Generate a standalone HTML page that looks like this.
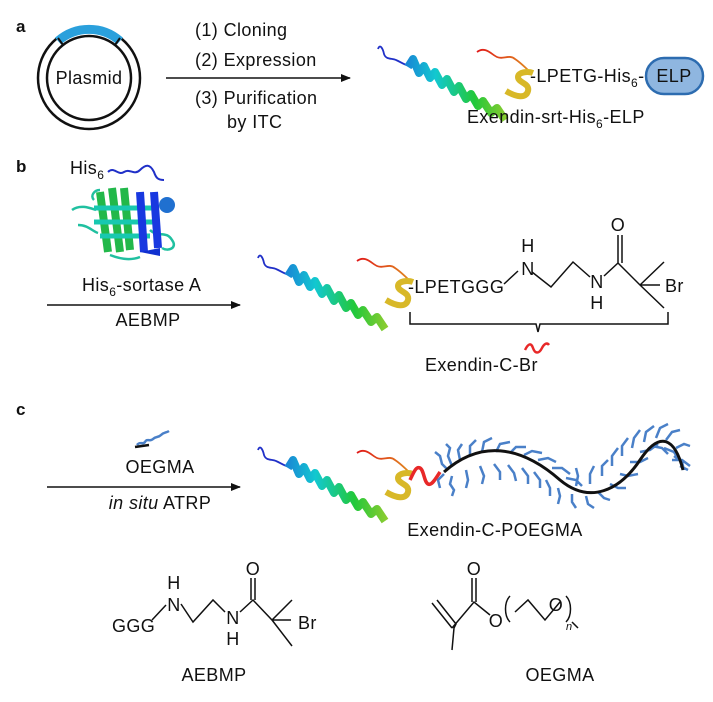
<!DOCTYPE html>
<html><head><meta charset="utf-8"><style>
html,body{margin:0;padding:0;background:#fff}
svg{display:block}
text{font-family:"Liberation Sans",sans-serif;fill:#111;letter-spacing:0.4px}
</style></head><body>
<svg width="713" height="702" viewBox="0 0 713 702" xmlns="http://www.w3.org/2000/svg">
<defs>
<linearGradient id="hg" gradientUnits="userSpaceOnUse" x1="25" y1="0" x2="155" y2="0">
<stop offset="0" stop-color="#1a7fd6"/><stop offset="0.25" stop-color="#12c8d0"/><stop offset="0.55" stop-color="#22c83a"/><stop offset="0.8" stop-color="#8ccc30"/><stop offset="1" stop-color="#e0c020"/></linearGradient>
<linearGradient id="rg" gradientUnits="userSpaceOnUse" x1="99" y1="0" x2="155" y2="0">
<stop offset="0" stop-color="#e01818"/><stop offset="1" stop-color="#e09020"/></linearGradient>
<marker id="ar" markerWidth="10" markerHeight="8" refX="9" refY="4" orient="auto" markerUnits="userSpaceOnUse"><path d="M0,0 L10,4 L0,8 Z" fill="#111"/></marker>
<g id="prot">
<path d="M0,4 c2,-6 5,0 6,5 c2,6 8,4 12,6 c5,2 8,5 14,6" fill="none" stroke="#2030c8" stroke-width="1.8"/>
<path d="M99,7 c8,-6 14,2 20,5 c6,3 12,-3 18,2 c6,4 10,8 16,14" fill="none" stroke="url(#rg)" stroke-width="1.8"/>
<path d="M30,22 l5,-8 l6,14 l5,-7 l6,12 l5,-6 l7,13 l5,-6 l7,13 l5,-6 l7,13 l5,-5 l7,12 l5,-5 l8,12 l6,-5 l8,12" fill="none" stroke="url(#hg)" stroke-width="8" stroke-linejoin="round"/>
<path d="M128,46 c10,6 20,8 22,0 c2,-8 -10,-8 -10,-14 c0,-5 10,-6 15,-4" fill="none" stroke="#d8b828" stroke-width="6"/>
</g>
</defs>

<!-- panel a -->
<text x="16" y="32" font-size="17" font-weight="bold">a</text>
<circle cx="89" cy="78" r="51" fill="none" stroke="#111" stroke-width="2.5"/>
<circle cx="89" cy="78" r="42" fill="none" stroke="#111" stroke-width="2.5"/>
<path d="M58,41 A47,47 0 0 1 120,41" fill="none" stroke="#2aa0dc" stroke-width="9"/>
<line x1="58" y1="38" x2="63" y2="45" stroke="#111" stroke-width="2"/>
<line x1="120" y1="38" x2="115" y2="45" stroke="#111" stroke-width="2"/>
<text x="89" y="84" font-size="18" text-anchor="middle">Plasmid</text>
<text x="195" y="36" font-size="18">(1) Cloning</text>
<text x="195" y="66" font-size="18">(2) Expression</text>
<line x1="166" y1="78" x2="350" y2="78" stroke="#111" stroke-width="1.5" marker-end="url(#ar)"/>
<text x="195" y="104" font-size="18">(3) Purification</text>
<text x="227" y="128" font-size="18">by ITC</text>
<use href="#prot" x="378" y="45"/>
<text x="530" y="82" font-size="18">-LPETG-His<tspan font-size="12" dy="5">6</tspan><tspan dy="-5">-</tspan></text>
<rect x="646" y="58" width="57" height="36" rx="18" fill="#8fb6e0" stroke="#2d6cb0" stroke-width="2.5"/>
<text x="674" y="82" font-size="18" text-anchor="middle">ELP</text>
<text x="467" y="123" font-size="18">Exendin-srt-His<tspan font-size="12" dy="5">6</tspan><tspan dy="-5">-ELP</tspan></text>

<!-- panel b -->
<text x="16" y="172" font-size="17" font-weight="bold">b</text>
<text x="70" y="174" font-size="18">His<tspan font-size="12" dy="5">6</tspan></text>
<path d="M108,172 c6,-6 10,4 16,0 c6,-4 10,4 16,-2 c6,-6 10,-6 14,2 c2,6 4,8 10,8" fill="none" stroke="#2030c8" stroke-width="2"/>
<path d="M72,210 c8,-6 18,-2 24,0 M78,225 c10,0 14,6 20,8 M100,190 c-6,0 -10,6 -6,10 M150,230 c8,8 16,0 22,10 c6,8 -4,12 -10,8 M110,255 c10,4 20,6 30,2" fill="none" stroke="#20c0a0" stroke-width="2.5"/>
<path d="M100,192 l8,60 M112,188 l8,64 M124,188 l6,62" stroke="#22b84a" stroke-width="8"/>
<path d="M94,208 l60,0 M94,222 l60,0 M100,236 l50,0" stroke="#18c8b0" stroke-width="5"/>
<path d="M140,192 l4,60 M154,192 l4,56" stroke="#1838e0" stroke-width="8"/>
<path d="M140,252 l20,-4 l0,8 z" fill="#1030d0"/>
<circle cx="167" cy="205" r="8" fill="#2070d0"/>
<text x="82" y="291" font-size="18">His<tspan font-size="12" dy="5">6</tspan><tspan dy="-5">-sortase A</tspan></text>
<line x1="47" y1="305" x2="240" y2="305" stroke="#111" stroke-width="1.5" marker-end="url(#ar)"/>
<text x="148" y="326" font-size="18" text-anchor="middle">AEBMP</text>
<use href="#prot" x="258" y="254"/>
<text x="408" y="293" font-size="18">-LPETGGG</text>
<g stroke="#111" stroke-width="1.5" fill="none">
<path d="M504,284 L518,271 M532,272 L551,287 L573,262 L590,277 M604,276 L618,263 L640,285 M618,263 L618,235 M622,263 L622,235 M640,285 L664,262 M640,285 L664,308 M640,285 L660,285"/>
<path d="M410,312 L410,324 L536,324 L538,332 L540,324 L668,324 L668,312"/>
</g>
<text x="528" y="252" font-size="18" text-anchor="middle">H</text>
<text x="528" y="275" font-size="18" text-anchor="middle">N</text>
<text x="597" y="288" font-size="18" text-anchor="middle">N</text>
<text x="597" y="309" font-size="18" text-anchor="middle">H</text>
<text x="618" y="231" font-size="18" text-anchor="middle">O</text>
<text x="665" y="292" font-size="18">Br</text>
<path d="M525,350 c3,-6 6,-8 8,-2 c2,6 6,6 9,0 c2,-4 5,-6 7,-3" fill="none" stroke="#e82828" stroke-width="2.5"/>
<text x="425" y="371" font-size="18">Exendin-C-Br</text>

<!-- panel c -->
<text x="16" y="415" font-size="17" font-weight="bold">c</text>
<path d="M137,445 c3,-4 6,0 8,-3 c2,-4 5,0 8,-3 c3,-3 5,-1 8,-4 c3,-3 5,-2 8,-4" fill="none" stroke="#4a80c8" stroke-width="2.5"/>
<path d="M135,447 l14,-2" stroke="#111" stroke-width="2.5"/>
<text x="160" y="473" font-size="18" text-anchor="middle">OEGMA</text>
<line x1="47" y1="487" x2="240" y2="487" stroke="#111" stroke-width="1.5" marker-end="url(#ar)"/>
<text x="160" y="509" font-size="18" text-anchor="middle"><tspan font-style="italic">in situ</tspan> ATRP</text>
<use href="#prot" x="258" y="446"/>
<path d="M410,480 c4,-8 6,-14 10,-12 c4,2 4,14 8,16 c4,2 8,-6 12,-12" fill="none" stroke="#e82828" stroke-width="3.5"/>
<g stroke="#4a80c8" stroke-width="2.5" fill="none">
<path d="M448,470 l-6,-6 l-2,-8 l-5,-4 M452,466 l-4,-10 l2,-8 l-4,-4 M460,460 l-2,-10 l4,-6 M470,456 l0,-10 l6,-6 M482,452 l2,-10 l8,-4 M496,452 l4,-8 l10,-2 M510,453 l6,-6 l10,0 M524,455 l8,-4 l10,2 M538,460 l10,-2 l8,4 M552,468 l10,0 l8,6 M566,478 l10,2 l6,6 M444,474 l-6,6 l2,8 M452,476 l-2,8 l4,6 l-2,6 M466,470 l2,10 l-2,8 M480,466 l4,10 l-2,8 M494,464 l6,8 l0,8 M508,465 l6,8 l2,8 M522,468 l6,8 l0,8 M534,472 l6,8 l0,8 M546,480 l4,8 l0,8 M558,488 l2,8 l-2,8 M572,494 l0,8 l4,6 M586,496 l2,8 l6,4 M598,492 l6,6 l6,2 M610,484 l8,4 l8,0 M620,474 l8,2 l10,-2 M630,462 l10,0 l8,-4 M640,452 l10,-2 l8,-6 M652,446 l10,2 l6,6 M664,448 l10,4 l4,6 M674,456 l8,6 l2,8 M680,466 l8,4 M576,486 l2,-10 l-2,-8 M590,484 l0,-10 l4,-8 M602,476 l0,-10 l6,-6 M612,466 l0,-10 l6,-8 M622,456 l0,-10 l6,-8 M632,448 l2,-10 l6,-8 M644,442 l2,-10 l8,-6 M656,438 l4,-10 l8,-4 M666,440 l6,-8 l8,-2 M676,448 l8,-4 l6,2 M672,460 l10,0 l8,6"/>
</g>
<path d="M444,472 C480,440 520,445 560,480 C590,505 620,490 640,460 C660,430 675,438 683,470" fill="none" stroke="#111" stroke-width="3"/>
<text x="495" y="536" font-size="18" text-anchor="middle">Exendin-C-POEGMA</text>

<!-- bottom chem: AEBMP -->
<g stroke="#111" stroke-width="1.5" fill="none">
<path d="M152,620 L166,605 M181,604 L193,622 L213,600 L225,612 M240,612 L253,600 L272,620 L292,600 M272,620 L292,646 M272,620 L291,620 M251,600 L251,578 M255,600 L255,578"/>
<path d="M432,603 L452,628 M437,600 L456,624 L454,628 L452,650 M452,628 L474,602 L490,615 M472,602 L472,578 M476,602 L476,578 M515,612 L528,600 L545,620 L560,602 M572,622 L578,628"/>
<path d="M510,596 c-6,6 -6,20 0,26 M566,596 c6,6 6,20 0,26"/>
</g>
<text x="112" y="632" font-size="18">GGG</text>
<text x="174" y="589" font-size="18" text-anchor="middle">H</text>
<text x="174" y="611" font-size="18" text-anchor="middle">N</text>
<text x="233" y="624" font-size="18" text-anchor="middle">N</text>
<text x="233" y="645" font-size="18" text-anchor="middle">H</text>
<text x="253" y="575" font-size="18" text-anchor="middle">O</text>
<text x="298" y="629" font-size="18">Br</text>
<text x="214" y="681" font-size="18" text-anchor="middle">AEBMP</text>
<text x="474" y="575" font-size="18" text-anchor="middle">O</text>
<text x="496" y="627" font-size="18" text-anchor="middle">O</text>
<text x="556" y="611" font-size="18" text-anchor="middle">O</text>
<text x="566" y="630" font-size="11" font-style="italic">n</text>
<text x="560" y="681" font-size="18" text-anchor="middle">OEGMA</text>
</svg>
</body></html>
